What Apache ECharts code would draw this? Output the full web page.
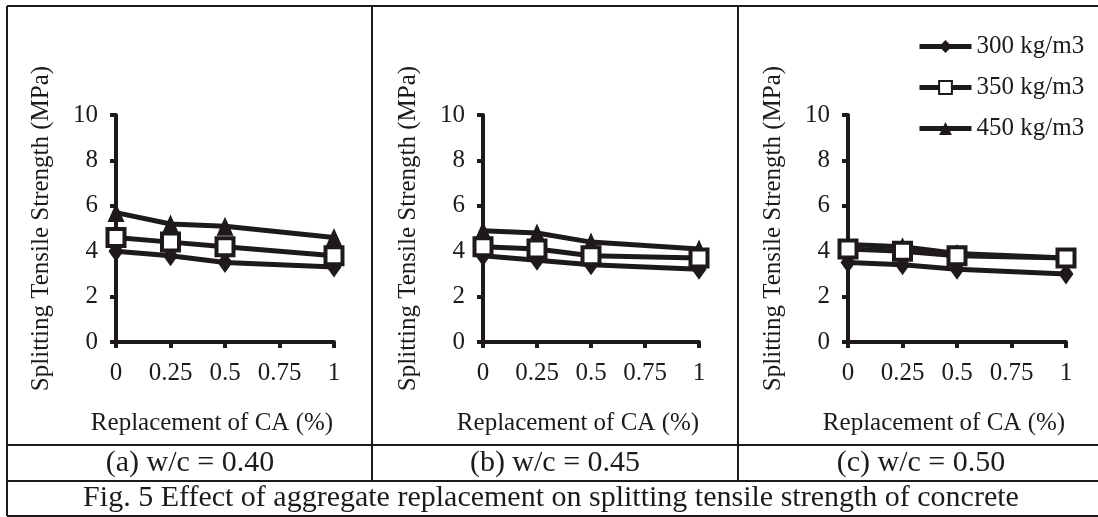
<!DOCTYPE html>
<html>
<head>
<meta charset="utf-8">
<script src="https://cdn.jsdelivr.net/npm/echarts@6/dist/echarts.min.js"></script>
<style>
  html, body { margin: 0; padding: 0; background: #fff; }
  #chart { width: 1098px; height: 517px; }
</style>
</head>
<body>
<div id="chart"></div>
<script>
// replacement levels of coarse aggregate
var xValues = [0, 0.25, 0.5, 1]
var xTicks = [0, 0.25, 0.5, 0.75, 1]

// (a) w/c = 0.40
var a300 = [4.0, 3.8, 3.5, 3.3]
var a350 = [4.6, 4.4, 4.2, 3.8]
var a450 = [5.7, 5.2, 5.1, 4.6]
// (b) w/c = 0.45
var b300 = [3.8, 3.6, 3.4, 3.2]
var b350 = [4.2, 4.1, 3.8, 3.7]
var b450 = [4.9, 4.8, 4.4, 4.1]
// (c) w/c = 0.50
var c300 = [3.5, 3.4, 3.2, 3.0]
var c350 = [4.1, 4.0, 3.8, 3.7]
var c450 = [4.3, 4.2, 3.9, 3.7]

var names = ['300 kg/m3', '350 kg/m3', '450 kg/m3']
var panelTitles = ['(a) w/c = 0.40', '(b) w/c = 0.45', '(c) w/c = 0.50']
var caption = 'Fig. 5 Effect of aggregate replacement on splitting tensile strength of concrete'

var panels = [[a300, a350, a450], [b300, b350, b450], [c300, c350, c450]]

var FONT = "'Liberation Serif', 'Times New Roman', serif"
var INK = '#1e1a1b'

var chart = echarts.init(document.getElementById('chart'))

var gridLeft = [116, 483, 848]
var gridWidth = [218, 216, 218]

function pairs(vals) {
  return xValues.map(function (x, i) { return [x, vals[i]] })
}

var grids = [], xAxes = [], yAxes = [], series = []
for (var p = 0; p < 3; p++) {
  grids.push({ left: gridLeft[p], top: 115, width: gridWidth[p], height: 227 })
  xAxes.push({
    type: 'value', gridIndex: p, min: 0, max: 1, interval: 0.25,
    name: 'Replacement of CA (%)', nameLocation: 'middle', nameGap: 69,
    nameTextStyle: { fontFamily: FONT, fontSize: 25, color: INK, padding: [0, 26, 0, 0] },
    axisLine: { lineStyle: { color: INK, width: 4 } },
    axisTick: { show: true, length: 6, lineStyle: { color: INK, width: 4 } },
    axisLabel: { fontFamily: FONT, fontSize: 25, color: INK, margin: 19 },
    splitLine: { show: false }
  })
  yAxes.push({
    type: 'value', gridIndex: p, min: 0, max: 10, interval: 2,
    name: 'Splitting Tensile Strength (MPa)', nameLocation: 'middle', nameGap: 62,
    nameTextStyle: { fontFamily: FONT, fontSize: 25, color: INK },
    axisLine: { show: true, lineStyle: { color: INK, width: 4 } },
    axisTick: { show: true, length: 6, lineStyle: { color: INK, width: 4 } },
    axisLabel: { fontFamily: FONT, fontSize: 25, color: INK, margin: 18 },
    splitLine: { show: false }
  })
  var d = panels[p]
  series.push({
    name: names[2], type: 'line', xAxisIndex: p, yAxisIndex: p, z: 2,
    data: pairs(d[2]), symbol: 'triangle', symbolSize: [17, 19],
    lineStyle: { color: INK, width: 5 }, itemStyle: { color: INK }
  })
  series.push({
    name: names[0], type: 'line', xAxisIndex: p, yAxisIndex: p, z: 3,
    data: pairs(d[0]), symbol: 'diamond', symbolSize: [15, 21],
    lineStyle: { color: INK, width: 5 }, itemStyle: { color: INK }
  })
  series.push({
    name: names[1], type: 'line', xAxisIndex: p, yAxisIndex: p, z: 4,
    data: pairs(d[1]), symbol: 'rect', symbolSize: 17,
    lineStyle: { color: INK, width: 5 },
    itemStyle: { color: '#fff', borderColor: INK, borderWidth: 4 }
  })
}

// table frame of the figure
var lineStyle = { stroke: INK, lineWidth: 2 }
function hline(y, x1, x2) {
  return { type: 'line', shape: { x1: x1, y1: y, x2: x2, y2: y }, style: lineStyle, silent: true }
}
function vline(x, y1, y2) {
  return { type: 'line', shape: { x1: x, y1: y1, x2: x, y2: y2 }, style: lineStyle, silent: true }
}
var graphics = [
  hline(6, 7, 1098), hline(445, 7, 1098), hline(481, 7, 1098), hline(516, 7, 1098),
  vline(7, 6, 516), vline(372, 6, 481), vline(738, 6, 481)
]
var titleX = [190, 555, 921]
for (var i = 0; i < 3; i++) {
  graphics.push({
    type: 'text', x: titleX[i], y: 463,
    style: { text: panelTitles[i], font: '30px ' + FONT, fill: INK, textAlign: 'center', textVerticalAlign: 'middle' }
  })
}
graphics.push({
  type: 'text', x: 551, y: 498,
  style: { text: caption, font: '30px ' + FONT, fill: INK, textAlign: 'center', textVerticalAlign: 'middle' }
})

chart.setOption({
  animation: false,
  backgroundColor: '#fff',
  legend: {
    data: names, orient: 'vertical', left: 912, top: 29,
    itemWidth: 52, itemHeight: 16, itemGap: 16,
    lineStyle: { width: 5 },
    textStyle: { fontFamily: FONT, fontSize: 25, color: INK, lineHeight: 25 }
  },
  grid: grids,
  xAxis: xAxes,
  yAxis: yAxes,
  series: series,
  graphic: graphics
})
</script>
</body>
</html>
